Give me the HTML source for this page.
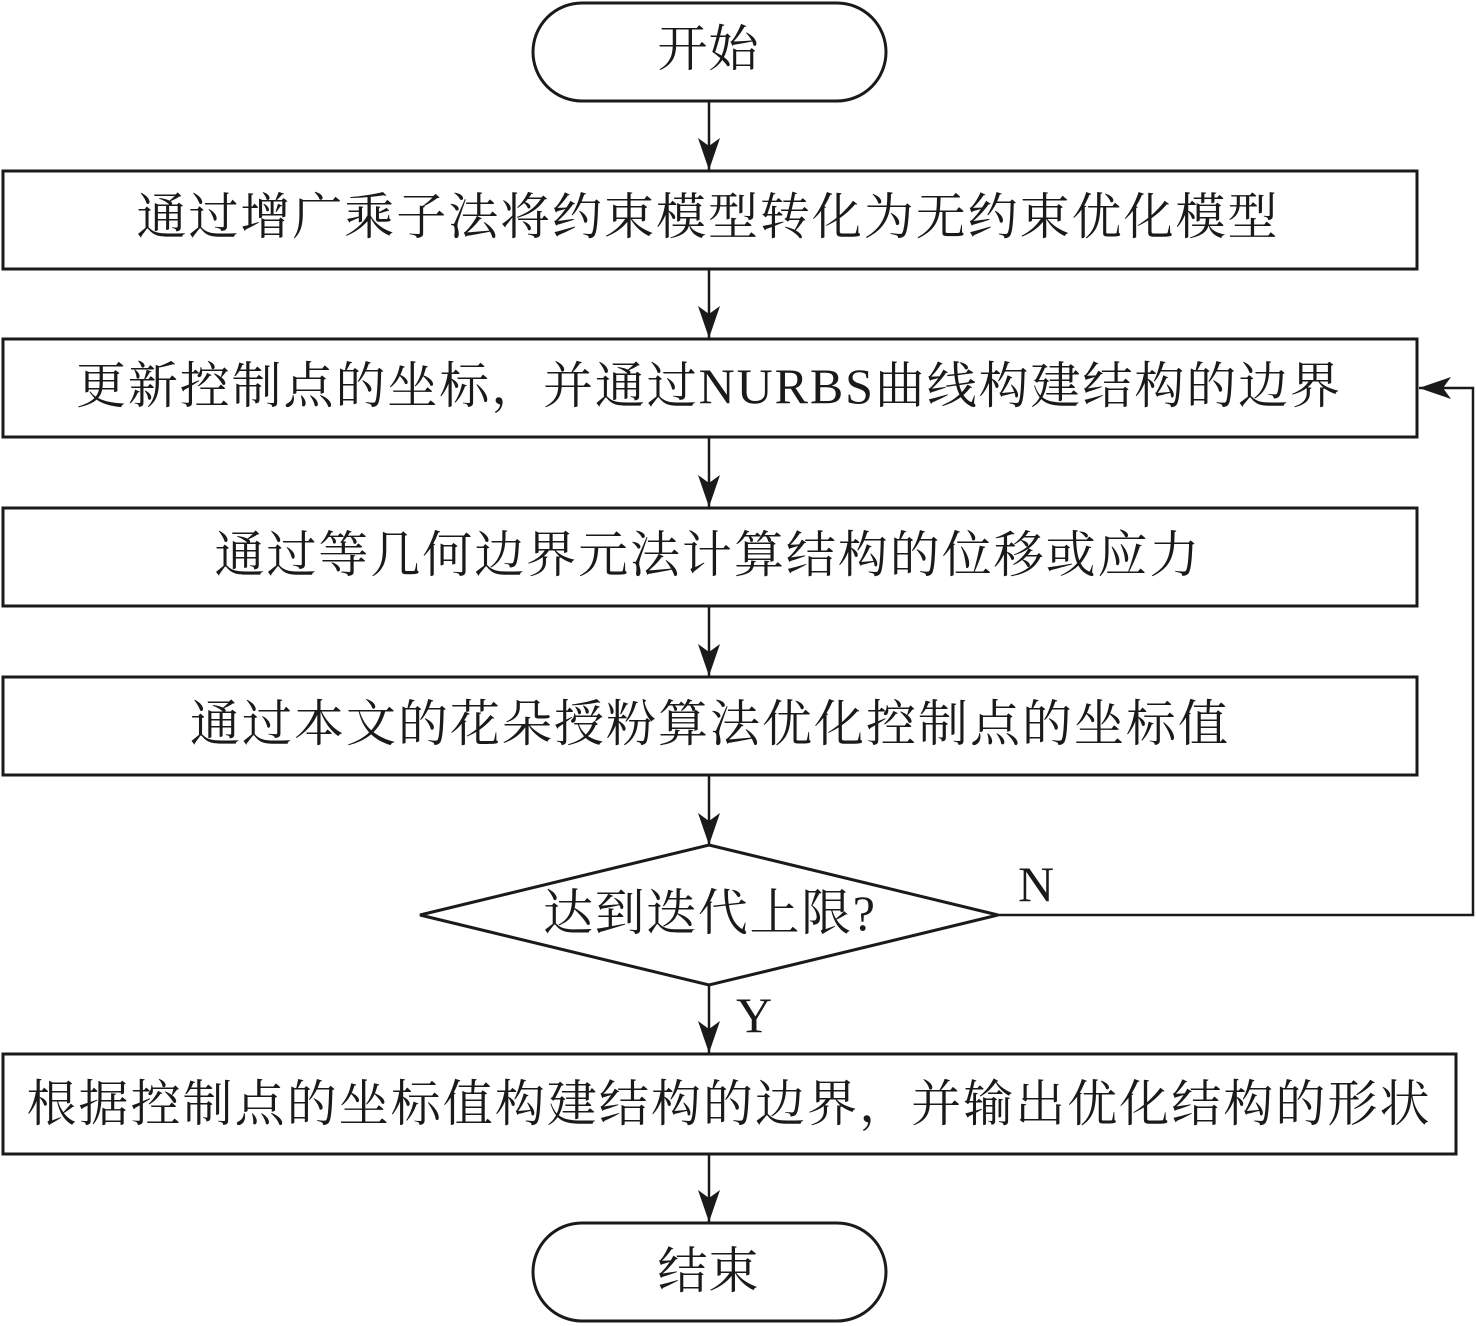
<!DOCTYPE html>
<html><head><meta charset="utf-8"><style>
html,body{margin:0;padding:0;background:#fff}
svg{display:block}
text{font-family:"Liberation Serif","Noto Serif CJK SC",serif;font-size:50px;fill:#1a1a1a;text-anchor:middle;dominant-baseline:central}
</style></head><body>
<svg width="1476" height="1326" viewBox="0 0 1476 1326">
<defs>
<marker id="a" viewBox="0 0 32 22" refX="32" refY="11" markerWidth="32" markerHeight="22" markerUnits="userSpaceOnUse" orient="auto">
<path d="M0,0 L32,11 L0,22 L8,11 Z" fill="#1a1a1a"/>
</marker>
</defs>
<g fill="none" stroke="#1a1a1a" stroke-width="3">
<rect x="533" y="3" width="353" height="98" rx="49"/>
<rect x="3" y="171" width="1414" height="98"/>
<rect x="3" y="339" width="1414" height="98"/>
<rect x="3" y="508" width="1414" height="98"/>
<rect x="3" y="677" width="1414" height="98"/>
<polygon points="709,845 998,915 709,985 420,915"/>
<rect x="3" y="1054" width="1453" height="100"/>
<rect x="533" y="1223" width="353" height="98" rx="49"/>
</g>
<g stroke="#1a1a1a" stroke-width="2.5" fill="none">
<line x1="709" y1="101" x2="709" y2="170" marker-end="url(#a)"/>
<line x1="709" y1="269" x2="709" y2="338" marker-end="url(#a)"/>
<line x1="709" y1="437" x2="709" y2="507" marker-end="url(#a)"/>
<line x1="709" y1="606" x2="709" y2="676" marker-end="url(#a)"/>
<line x1="709" y1="775" x2="709" y2="845" marker-end="url(#a)"/>
<line x1="709" y1="985" x2="709" y2="1053" marker-end="url(#a)"/>
<line x1="709" y1="1155" x2="709" y2="1222" marker-end="url(#a)"/>
<polyline points="998,915 1473,915 1473,388 1419,388" marker-end="url(#a)"/>
</g>
<text x="708" y="49" textLength="101" lengthAdjust="spacing">开始</text>
<text x="707" y="217" textLength="1141" lengthAdjust="spacing">通过增广乘子法将约束模型转化为无约束优化模型</text>
<text x="708" y="386" textLength="1264" lengthAdjust="spacing">更新控制点的坐标，并通过NURBS曲线构建结构的边界</text>
<text x="707" y="555" textLength="985" lengthAdjust="spacing">通过等几何边界元法计算结构的位移或应力</text>
<text x="709" y="724" textLength="1038" lengthAdjust="spacing">通过本文的花朵授粉算法优化控制点的坐标值</text>
<text x="709" y="913" textLength="332" lengthAdjust="spacing">达到迭代上限?</text>
<text x="1036" y="884">N</text>
<text x="754" y="1015">Y</text>
<text x="728" y="1104" textLength="1403" lengthAdjust="spacing">根据控制点的坐标值构建结构的边界，并输出优化结构的形状</text>
<text x="708" y="1271" textLength="101" lengthAdjust="spacing">结束</text>
</svg>
</body></html>
